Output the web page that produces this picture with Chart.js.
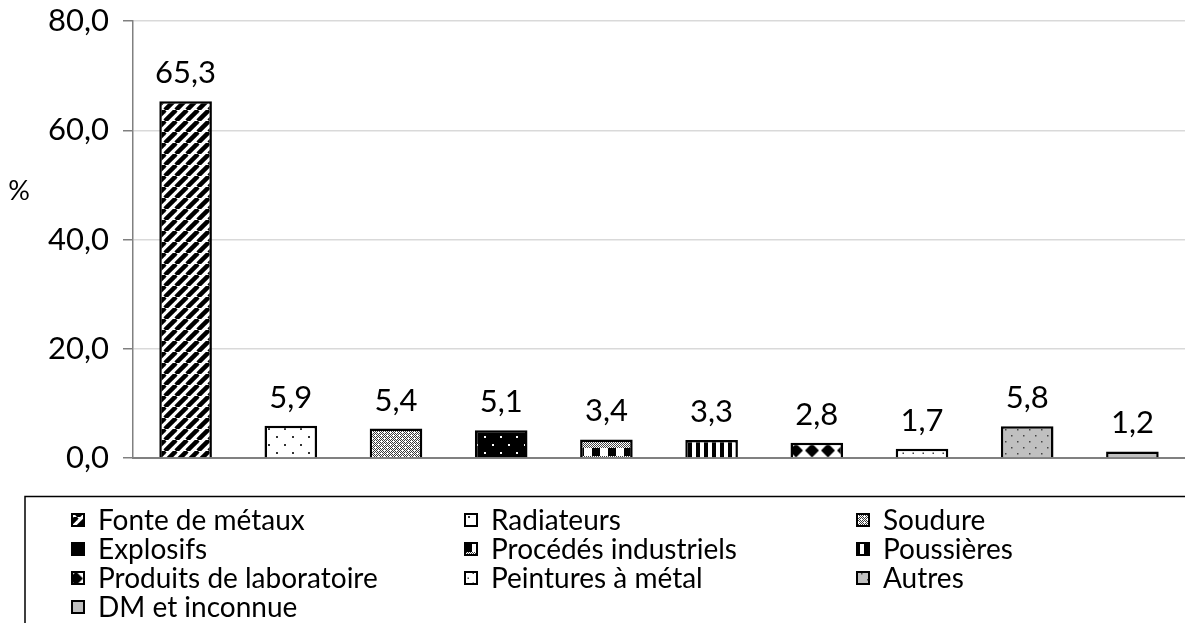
<!DOCTYPE html>
<html>
<head>
<meta charset="utf-8">
<script src="https://cdn.jsdelivr.net/npm/chart.js@4"></script>
<style>
  html, body { margin: 0; padding: 0; background: #fff; }
  #wrap { width: 1185px; height: 623px; position: relative; }
</style>
</head>
<body>
<div id="wrap"><canvas id="chart"></canvas></div>
<script>
// données
const categories = ['Fonte de métaux', 'Radiateurs', 'Soudure', 'Explosifs', 'Procédés industriels',
    'Poussières', 'Produits de laboratoire', 'Peintures à métal', 'Autres', 'DM et inconnue'];
const values = [65.3, 5.9, 5.4, 5.1, 3.4, 3.3, 2.8, 1.7, 5.8, 1.2];
const yTicks = [0, 20, 40, 60, 80];
const yTitle = '%';

const FONT = 'Lato, "Open Sans", sans-serif';

// petites tuiles de motifs (hachures, points...)
function tile(w, h, draw) {
    const c = document.createElement('canvas');
    c.width = w; c.height = h;
    const g = c.getContext('2d');
    draw(g, w, h);
    return c;
}
function dots(bg, fg, step, r) {
    return tile(step * 2, step * 2, (g) => {
        g.fillStyle = bg; g.fillRect(0, 0, step * 2, step * 2);
        g.fillStyle = fg;
        g.fillRect(step / 2, step / 2, r, r);
        g.fillRect(step * 1.5, step * 1.5, r, r);
    });
}
const tiles = [
    // Fonte de métaux : diagonales épaisses
    tile(11, 11, (g, w, h) => {
        g.fillStyle = '#fff'; g.fillRect(0, 0, w, h);
        g.strokeStyle = '#000'; g.lineWidth = 4.5;
        [-11, 0, 11].forEach(o => { g.beginPath(); g.moveTo(o, h); g.lineTo(o + w, 0); g.stroke(); });
    }),
    dots('#fff', '#333', 8, 2),
    // Soudure : quadrillage fin gris
    tile(6, 6, (g, w, h) => {
        g.fillStyle = '#fff'; g.fillRect(0, 0, w, h);
        g.fillStyle = '#3a3a3a';
        for (let y = 0; y < h; y++) for (let x = 0; x < w; x++) if ((x + y) % 2 === 0 && !(x % 3 === 0 && y % 3 === 0)) g.fillRect(x, y, 1, 1);
    }),
    dots('#000', '#fff', 8, 2),
    // Procédés industriels
    tile(16, 16, (g) => {
        g.fillStyle = '#fff'; g.fillRect(0, 0, 16, 16);
        g.fillStyle = '#444';
        for (let y = 0; y < 8; y++) for (let x = 0; x < 16; x++) if ((x + y) % 2 === 0) g.fillRect(x, y, 1, 1);
        g.fillStyle = '#000'; g.fillRect(0, 8, 8, 8);
    }),
    // Poussières : verticales
    tile(8, 4, (g) => {
        g.fillStyle = '#fff'; g.fillRect(0, 0, 8, 4);
        g.fillStyle = '#000'; g.fillRect(0, 0, 4, 4);
    }),
    // Produits de laboratoire : losanges
    tile(16, 16, (g) => {
        g.fillStyle = '#fff'; g.fillRect(0, 0, 16, 16);
        g.fillStyle = '#000';
        g.beginPath(); g.moveTo(8, 1); g.lineTo(15, 8); g.lineTo(8, 15); g.lineTo(1, 8); g.closePath(); g.fill();
    }),
    dots('#fff', '#444', 5, 1.5),
    dots('#c0c0c0', '#444', 6, 1.5),
    tile(4, 4, (g) => { g.fillStyle = '#c0c0c0'; g.fillRect(0, 0, 4, 4); })
];

const ctx = document.getElementById('chart');
const patterns = tiles.map(t => ctx.getContext('2d').createPattern(t, 'repeat'));
// caler quelques motifs verticalement dans leur barre
patterns[4].setTransform(new DOMMatrix().translate(0, 8));
patterns[6].setTransform(new DOMMatrix().translate(4, 10.5));

const fmt = v => v.toFixed(1).replace('.', ',');

// étiquettes, titre de l'axe et légende dessinés à la main
const extras = {
    id: 'extras',
    afterDatasetsDraw(chart) {
        const g = chart.ctx;
        const meta = chart.getDatasetMeta(0);
        g.save();
        g.fillStyle = '#000';
        g.font = '31px ' + FONT;
        g.textAlign = 'center';
        g.textBaseline = 'alphabetic';
        meta.data.forEach((bar, i) => g.fillText(fmt(values[i]), bar.x, bar.y - 18));

        g.font = '27px ' + FONT;
        g.fillText(yTitle, 19, 200);

        // cadre de la légende
        g.strokeStyle = '#000'; g.lineWidth = 1.5;
        g.beginPath(); g.moveTo(25, 623); g.lineTo(25, 496.5); g.lineTo(1185, 496.5); g.stroke();

        const colX = [72, 465, 857];
        const rowY = [520, 549, 578, 607];
        g.font = '28px ' + FONT;
        g.textAlign = 'left';
        g.textBaseline = 'middle';
        categories.forEach((label, i) => {
            const x = colX[i % 3], y = rowY[Math.floor(i / 3)];
            g.fillStyle = patterns[i];
            g.fillRect(x, y - 6, 12, 12);
            g.lineWidth = 2; g.strokeStyle = '#000';
            g.strokeRect(x, y - 6, 12, 12);
            g.fillStyle = '#000';
            g.fillText(label, x + 26, y + 1);
        });
        g.restore();
    }
};

new Chart(ctx, {
    type: 'bar',
    data: {
        labels: categories,
        datasets: [{
            data: values,
            backgroundColor: patterns,
            borderColor: '#000',
            borderWidth: 2.5,
            categoryPercentage: 1,
            barPercentage: 0.5
        }]
    },
    options: {
        responsive: true,
        maintainAspectRatio: false,
        animation: false,
        layout: { padding: { top: 21, right: 0, bottom: 165, left: 0 } },
        plugins: { legend: { display: false }, tooltip: { enabled: false } },
        scales: {
            x: {
                ticks: { display: false },
                grid: { display: false },
                border: { color: '#808080', width: 2 },
                afterFit: s => { s.height = 0; }
            },
            y: {
                min: 0, max: 80,
                afterBuildTicks: s => { s.ticks = yTicks.map(v => ({ value: v })); },
                ticks: { callback: v => fmt(v), color: '#000', font: { size: 31, family: FONT }, padding: 14 },
                grid: { color: '#d9d9d9', tickColor: '#808080', tickLength: 10, lineWidth: 1.5 },
                border: { color: '#808080', width: 1.5 },
                afterFit: s => { s.width = 133; s.paddingTop = 0; s.paddingBottom = 0; }
            }
        }
    },
    plugins: [extras]
});
</script>
</body>
</html>
